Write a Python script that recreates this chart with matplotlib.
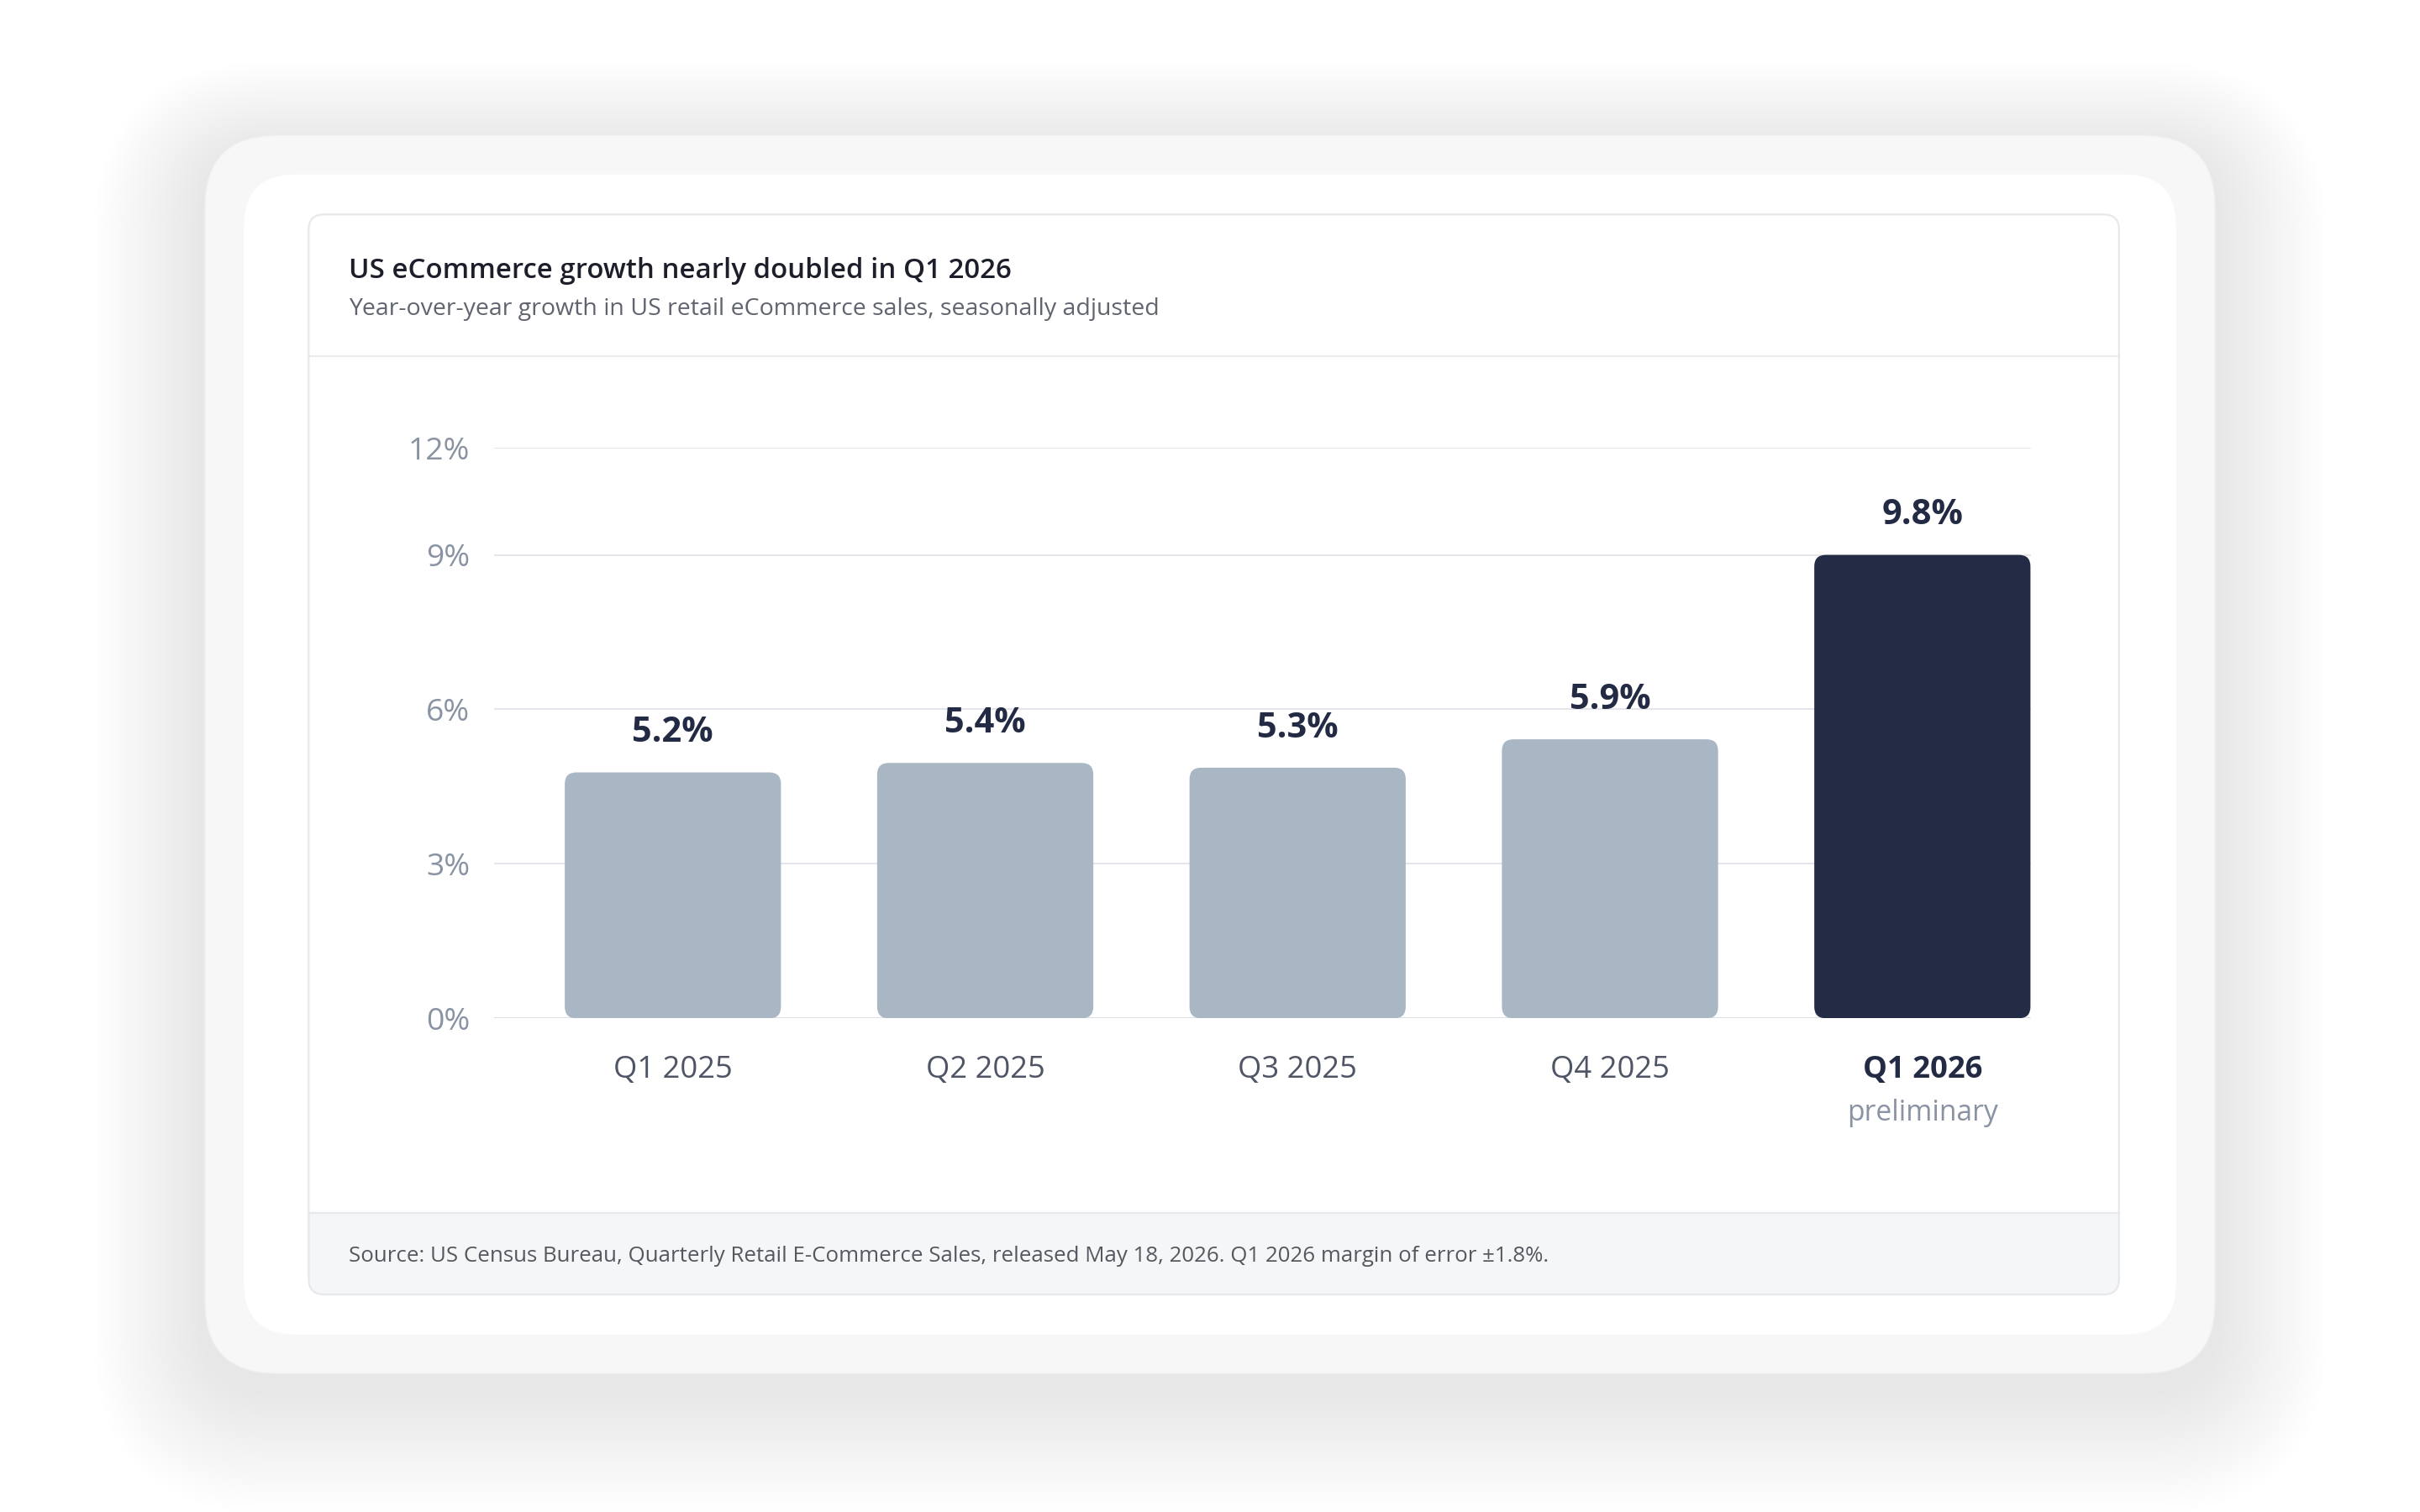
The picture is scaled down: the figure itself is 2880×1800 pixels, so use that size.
import matplotlib
matplotlib.use('Agg')
import matplotlib.pyplot as plt
from matplotlib.patches import FancyBboxPatch, Rectangle

plt.rcParams['font.family'] = ['Open Sans', 'DejaVu Sans']

# data
quarters = ['Q1 2025', 'Q2 2025', 'Q3 2025', 'Q4 2025', 'Q1 2026']
growth = [5.2, 5.4, 5.3, 5.9, 9.8]
highlight = [False, False, False, False, True]
tick_labels = ['0%', '3%', '6%', '9%', '12%']
title = 'US eCommerce growth nearly doubled in Q1 2026'
subtitle = 'Year-over-year growth in US retail eCommerce sales, seasonally adjusted'
source = ('Source: US Census Bureau, Quarterly Retail E-Commerce Sales, released May 18, 2026. '
          'Q1 2026 margin of error \u00b11.8%.')

W, H = 1568, 980          # layout units (reference at display scale)
S = 2880 / W              # layout unit -> output pixel
PT = S * 0.72             # layout unit -> points at dpi 100

fig = plt.figure(figsize=(28.8, 18), dpi=100)
fig.patch.set_facecolor('white')

bg = fig.add_axes([0, 0, 1, 1])
bg.set_xlim(0, W)
bg.set_ylim(H, 0)
bg.axis('off')

# soft drop shadow around the outer card
for i in range(24):
    pad = 4 + i * 3.0
    bg.add_patch(FancyBboxPatch((133 - pad, 98 - pad * 0.8), 1302 + 2 * pad, 802 + pad * 1.9,
                                boxstyle=f'round,pad=0,rounding_size={45 + pad}',
                                fc='#000000', ec='none', alpha=0.0028, zorder=1))

bg.add_patch(FancyBboxPatch((133, 88), 1302, 802, boxstyle='round,pad=0,rounding_size=46',
                            fc='#f7f7f7', ec='#f2f2f2', lw=1, zorder=2))
bg.add_patch(FancyBboxPatch((158, 113), 1252, 752, boxstyle='round,pad=0,rounding_size=34',
                            fc='white', ec='none', zorder=3))
bg.add_patch(FancyBboxPatch((200, 139), 1173, 700, boxstyle='round,pad=0,rounding_size=10',
                            fc='white', ec='none', zorder=4))
# footer band
bg.add_patch(FancyBboxPatch((200, 786), 1173, 53, boxstyle='round,pad=0,rounding_size=10',
                            fc='#f5f6f8', ec='none', zorder=5))
bg.add_patch(Rectangle((200, 786), 1173, 20, fc='#f5f6f8', ec='none', zorder=5))
bg.plot([200, 1373], [786, 786], color='#e7e8eb', lw=1.6, zorder=6)
bg.plot([200, 1373], [231, 231], color='#ececee', lw=1.6, zorder=6)
bg.add_patch(FancyBboxPatch((200, 139), 1173, 700, boxstyle='round,pad=0,rounding_size=10',
                            fc='none', ec='#e7e8eb', lw=1.6, zorder=7))

bg.text(226, 175.5, title, fontsize=18.0 * PT, fontweight='semibold', color='#1c1f2a',
        ha='left', va='center', zorder=8)
bg.text(226, 200.5, subtitle, fontsize=15.5 * PT, color='#60646e', ha='left', va='center', zorder=8)
bg.text(226, 814, source, fontsize=14.1 * PT, color='#55585f', ha='left', va='center', zorder=8)

# chart area
ymax = 12
y0, ytop = 660, 660 - 30.8 * ymax
ax = fig.add_axes([320 / W, 1 - y0 / H, (1316 - 320) / W, (y0 - ytop) / H])
ax.set_zorder(10)
ax.patch.set_alpha(0)
ax.set_xlim(-0.573, 4.348)
ax.set_ylim(0, ymax)
for sp in ax.spines.values():
    sp.set_visible(False)

# gridlines as in the reference: 3/6/9 sit at thirds of the peak, 12 near its value
grid_pos = [k * max(growth) / 3 for k in range(4)] + [12.06]
ax.set_yticks(grid_pos, tick_labels)
ax.tick_params(axis='y', length=0, pad=15.5 * PT, labelsize=20.3 * PT, labelcolor='#8a93a3')
ax.set_xticks([])
for k, g in enumerate(grid_pos):
    ax.axhline(g, color='#dcdfe5' if k == 0 else '#e4e6eb', lw=1.15 * PT, zorder=1)

x = list(range(len(quarters)))
colors = ['#232b45' if h else '#a9b6c3' for h in highlight]
bars = ax.bar(x, growth, width=0.692, color=colors, zorder=2)

# swap the plain bars for rounded ones
px_x = (1316 - 320) / (4.348 + 0.573)
px_y = (y0 - ytop) / ymax
r = 7.5 / px_x
for b in bars:
    bx, by = b.get_x(), b.get_y()
    bw, bh = b.get_width(), b.get_height()
    fc = b.get_facecolor()
    b.remove()
    ax.add_patch(FancyBboxPatch((bx, by), bw, bh, boxstyle=f'round,pad=0,rounding_size={r}',
                                mutation_aspect=px_x / px_y, fc=fc, ec='none', zorder=2))

for xi, v, q, h in zip(x, growth, quarters, highlight):
    ax.annotate(f'{v:.1f}%', (xi, v), xytext=(0, 25.5 * PT), textcoords='offset points',
                ha='center', va='center', fontsize=22.6 * PT, fontweight='bold',
                color='#232a44', annotation_clip=False)
    ax.annotate(q, (xi, 0), xytext=(0, -33.5 * PT), textcoords='offset points',
                ha='center', va='center', fontsize=19.8 * PT,
                fontweight='bold' if h else 'normal',
                color='#232a44' if h else '#4f5565', annotation_clip=False)
    if h:
        ax.annotate('preliminary', (xi, 0), xytext=(0, -61.5 * PT), textcoords='offset points',
                    ha='center', va='center', fontsize=18.3 * PT, color='#8a93a3',
                    annotation_clip=False)

fig.savefig('out.png', dpi=100, facecolor='white')
